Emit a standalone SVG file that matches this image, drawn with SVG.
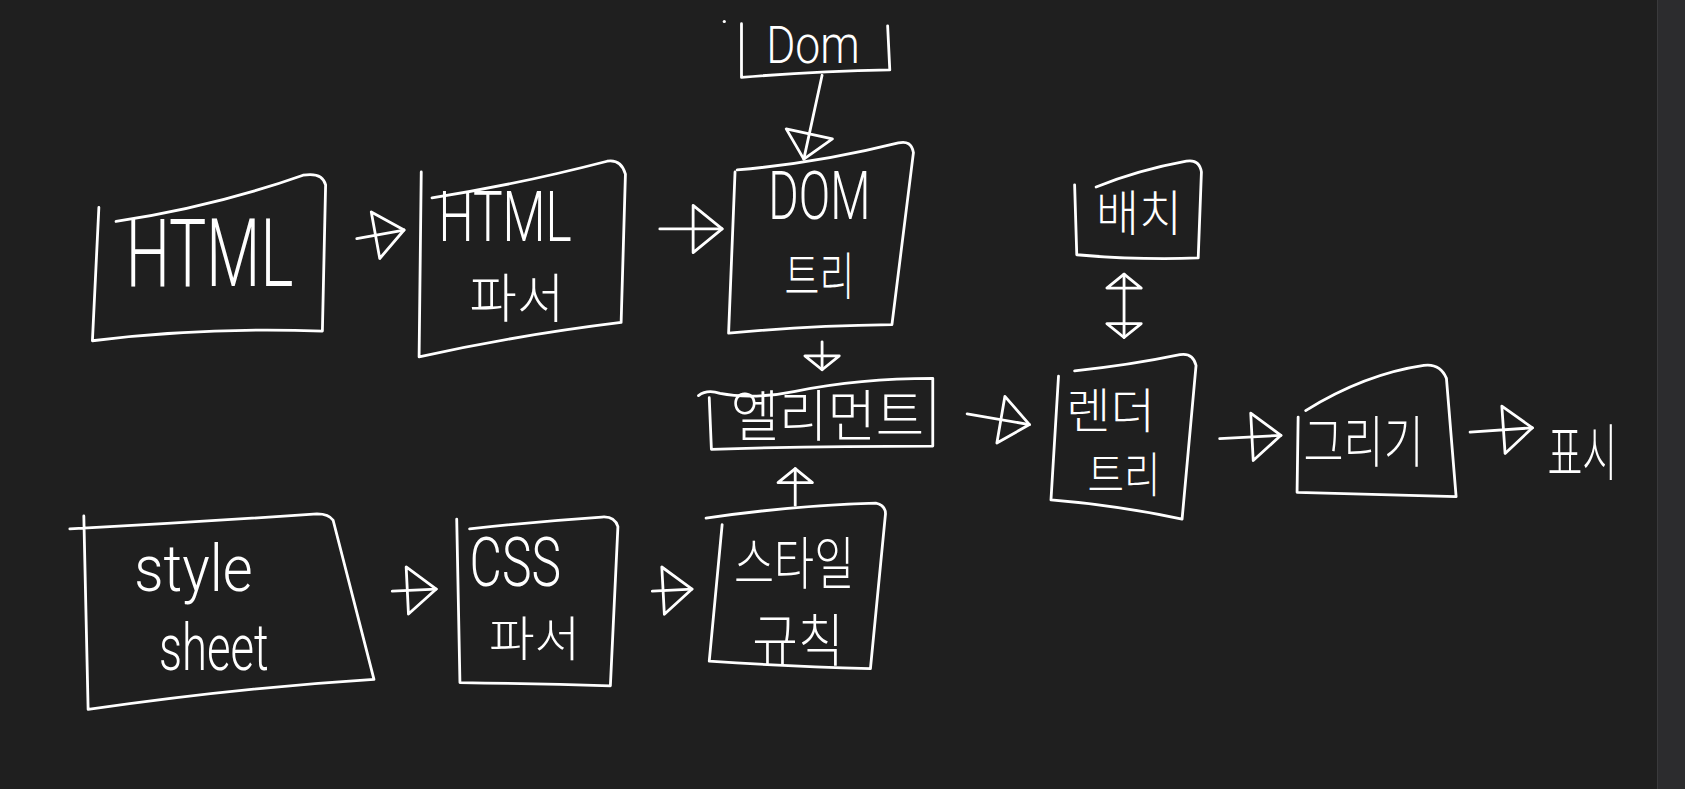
<svg xmlns="http://www.w3.org/2000/svg" width="1685" height="789" viewBox="0 0 1685 789">
<style>
.box{fill:none;stroke:#ffffff;stroke-width:2.6;stroke-linecap:round;stroke-linejoin:round}
.c{fill:none;stroke:#ffffff;stroke-width:2.6;stroke-linecap:round}
.t{fill:#ffffff;font-family:"Noto Sans CJK KR","Noto Sans",sans-serif;font-weight:300}
.l{fill:#ffffff;font-family:Roboto,"Liberation Sans",sans-serif;font-weight:300}
.head{fill:none;stroke:#ffffff;stroke-width:2.6;stroke-linejoin:round}
</style>
<defs>
<marker id="tri" markerUnits="userSpaceOnUse" markerWidth="40" markerHeight="60" refX="30" refY="25" orient="auto" overflow="visible">
<path class="head" d="M3,3 L30,25 L3,47 Z"/>
</marker>
<marker id="tri-m" markerUnits="userSpaceOnUse" markerWidth="40" markerHeight="60" refX="26" refY="24" orient="auto" overflow="visible">
<path class="head" d="M2,2 L26,24 L2,46 Z"/>
</marker>
<marker id="tri-s" markerUnits="userSpaceOnUse" markerWidth="30" markerHeight="40" refX="15" refY="18" orient="auto-start-reverse" overflow="visible">
<path class="head" d="M2,2 L15,18 L2,34 Z"/>
</marker>
</defs>
<rect x="0" y="0" width="1685" height="789" fill="#1f1f1f"/>
<rect x="1657" y="0" width="28" height="789" fill="#2c2c2e"/>
<line x1="1657.5" y1="0" x2="1657.5" y2="789" stroke="#3a3a3c" stroke-width="1"/>
<g transform="scale(1.07462 1.0749)">
<g id="connectors">
<path class="c" d="M332,222 L376,214" marker-end="url(#tri)"/>
<path class="c" d="M614,213 L672,213" marker-end="url(#tri)"/>
<path class="c" d="M765,70 L748,148" marker-end="url(#tri-m)"/>
<path class="c" d="M765,318 L765,344" marker-end="url(#tri-s)"/>
<path class="c" d="M740,470 L740,436" marker-end="url(#tri-s)"/>
<path class="c" d="M900,385 L958,395" marker-end="url(#tri)"/>
<path class="c" d="M1046,255 L1046,314" marker-start="url(#tri-s)" marker-end="url(#tri-s)"/>
<path class="c" d="M1135,408 L1192,405" marker-end="url(#tri)"/>
<path class="c" d="M1368,402 L1426,398" marker-end="url(#tri)"/>
<path class="c" d="M365,550 L406,548" marker-end="url(#tri)"/>
<path class="c" d="M607,550 L644,548" marker-end="url(#tri)"/>
</g>
<g id="html">
<path class="box" d="M92,193 L86,317 Q190,304 300,308 L303,172 Q300,160 282,163 Q200,192 108,206"/>
<text class="l" x="117" y="266" font-size="88" textLength="156" lengthAdjust="spacingAndGlyphs">HTML</text>
</g>
<g id="html-parser">
<path class="box" d="M392,160 L390,332 Q480,312 578,300 L582,162 Q578,148 565,150 Q480,172 402,184"/>
<text class="l" x="408" y="224" font-size="65" textLength="124" lengthAdjust="spacingAndGlyphs">HTML</text>
<text class="t" x="437" y="296" font-size="50" textLength="88" lengthAdjust="spacingAndGlyphs">파서</text>
</g>
<g id="dom-top">
<path class="box" d="M690,22 L690,72 Q760,66 828,65 L826,24"/>
<circle cx="674" cy="20" r="1.5" fill="#ffffff"/>
<text class="l" x="713" y="59" font-size="48" textLength="87" lengthAdjust="spacingAndGlyphs">Dom</text>
</g>
<g id="dom-tree">
<path class="box" d="M684,160 L678,310 Q750,303 830,302 L850,142 Q848,130 836,133 Q760,152 686,158"/>
<text class="l" x="715" y="204" font-size="62" textLength="95" lengthAdjust="spacingAndGlyphs">DOM</text>
<text class="t" x="730" y="274" font-size="48" textLength="65" lengthAdjust="spacingAndGlyphs">트리</text>
</g>
<g id="element">
<path class="box" d="M650,368 Q658,362 670,366 Q700,372 740,364 Q800,352 868,352 L868,415 Q760,415 662,418 L660,370"/>
<text class="t" x="680" y="406" font-size="52" textLength="180" lengthAdjust="spacingAndGlyphs">엘리먼트</text>
</g>
<g id="style-rule">
<path class="box" d="M657,482 Q740,470 815,468 Q824,470 824,478 L810,622 Q730,620 660,615 L672,488"/>
<text class="t" x="683" y="543" font-size="53" textLength="112" lengthAdjust="spacingAndGlyphs">스타일</text>
<text class="t" x="700" y="615" font-size="53" textLength="85" lengthAdjust="spacingAndGlyphs">규칙</text>
</g>
<g id="stylesheet">
<path class="box" d="M78,480 L82,660 Q220,640 348,632 L310,484 Q306,478 295,478 Q180,486 65,492"/>
<text class="l" x="125" y="550" font-size="60" textLength="110" lengthAdjust="spacingAndGlyphs">style</text>
<text class="l" x="148" y="623" font-size="60" textLength="102" lengthAdjust="spacingAndGlyphs">sheet</text>
</g>
<g id="css-parser">
<path class="box" d="M425,483 L428,635 Q500,636 568,638 L575,490 Q572,480 560,481 Q500,485 437,492"/>
<text class="l" x="437" y="545" font-size="64" textLength="85" lengthAdjust="spacingAndGlyphs">CSS</text>
<text class="t" x="455" y="610" font-size="44" textLength="85" lengthAdjust="spacingAndGlyphs">파서</text>
</g>
<g id="layout">
<path class="box" d="M1000,172 L1002,237 Q1060,242 1115,240 L1118,160 Q1116,148 1104,150 Q1060,158 1020,174"/>
<text class="t" x="1020" y="215" font-size="45" textLength="80" lengthAdjust="spacingAndGlyphs">배치</text>
</g>
<g id="render-tree">
<path class="box" d="M985,350 L978,465 Q1040,470 1100,483 L1113,340 Q1110,328 1098,330 Q1050,340 1000,345"/>
<text class="t" x="992" y="398" font-size="44" textLength="83" lengthAdjust="spacingAndGlyphs">렌더</text>
<text class="t" x="1012" y="458" font-size="44" textLength="68" lengthAdjust="spacingAndGlyphs">트리</text>
</g>
<g id="paint">
<path class="box" d="M1208,388 L1207,458 Q1280,460 1355,462 L1346,352 Q1340,338 1325,340 Q1270,348 1215,382"/>
<text class="t" x="1213" y="430" font-size="52" textLength="112" lengthAdjust="spacingAndGlyphs">그리기</text>
</g>
<g id="display">
<text class="t" x="1440" y="443" font-size="58" textLength="65" lengthAdjust="spacingAndGlyphs">표시</text>
</g>
</g>
</svg>
